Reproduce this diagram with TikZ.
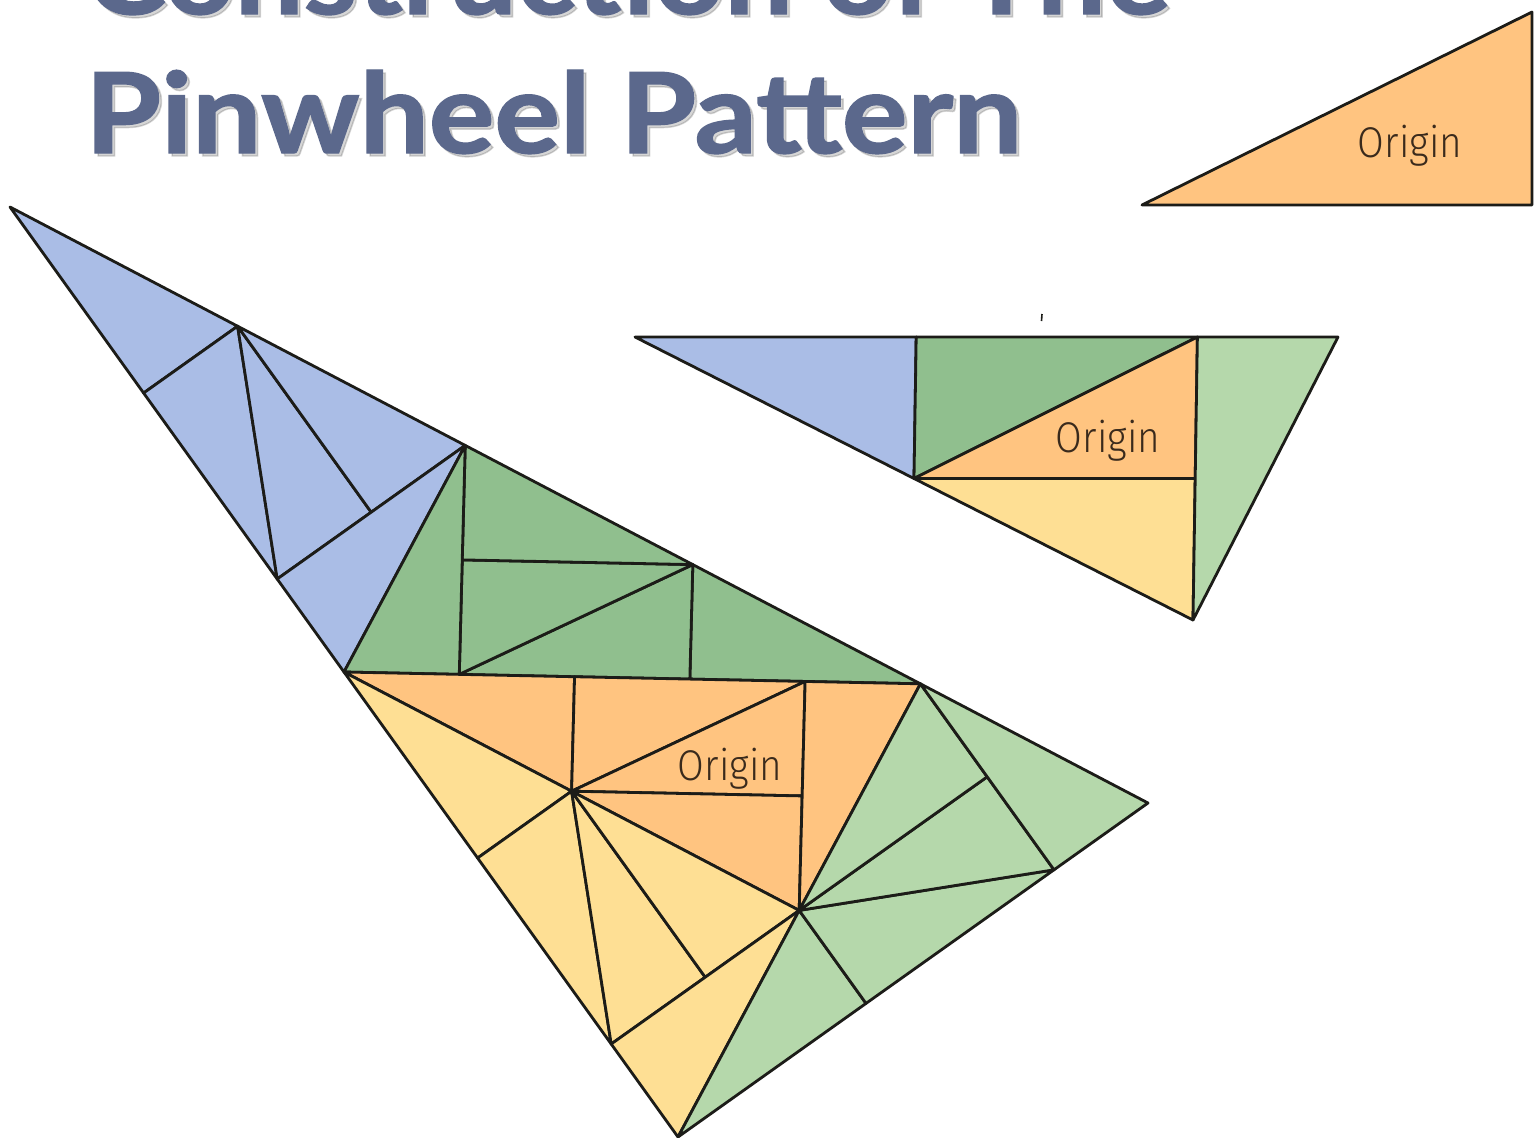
\documentclass[tikz,border=0pt]{standalone}
\usepackage{fontspec}
\usepackage{graphicx}
\usetikzlibrary{calc}
\newfontfamily\titlefont{Lato}[BoldFeatures={FakeBold=1.3}]
\newfontfamily\originfont{Fira Sans Light}
\definecolor{blueT}{RGB}{170,189,230}
\definecolor{dgreenT}{RGB}{144,191,142}
\definecolor{lgreenT}{RGB}{181,216,171}
\definecolor{orangeT}{RGB}{255,196,128}
\definecolor{yellowT}{RGB}{254,223,148}
\definecolor{titlec}{RGB}{91,104,140}
\definecolor{edgec}{RGB}{28,28,24}
\definecolor{originc}{RGB}{58,42,28}
\tikzset{
  edge/.style={draw=edgec, line width=2.8pt, line join=round},
  originlabel/.style={anchor=base, inner sep=0pt, text=originc, font=\fontsize{43}{43}\selectfont\originfont},
  titletext/.style={anchor=base west, inner sep=0pt, text=titlec},
  titleshadow/.style={anchor=base west, inner sep=0pt, text=black, opacity=0.16}
}
% subdivision points of a pinwheel triangle: A small angle, B middle angle, C right angle
\newcommand\pwpts[4]{%
  \coordinate (#1E) at ($(#2)!0.8!(#3)$);
  \coordinate (#1D) at ($(#2)!0.5!(#1E)$);
  \coordinate (#1F) at ($(#2)!0.5!(#4)$);
  \coordinate (#1G) at ($(#1E)!0.5!(#4)$);}
\newcommand\pwtri[4]{\filldraw[edge, fill=#1] (#2) -- (#3) -- (#4) -- cycle;}
% one level of subdivision, all five pieces one colour
\newcommand\pwlevel[5]{%
  \pwpts{#1}{#3}{#4}{#5}
  \pwtri{#2}{#3}{#1D}{#1F}
  \pwtri{#2}{#1D}{#1E}{#1F}
  \pwtri{#2}{#1F}{#1E}{#1G}
  \pwtri{#2}{#1F}{#1G}{#5}
  \pwtri{#2}{#1E}{#4}{#5}}
\begin{document}
\begin{tikzpicture}[x=1pt,y=-1pt]
\useasboundingbox (0,0) rectangle (1540,1138);
\clip (0,0) rectangle (1540,1138);
\fill[white] (0,0) rectangle (1540,1138);

% ---- title ----
\node[titleshadow] (t1s) at (88,17) {\resizebox{1084pt}{84pt}{\titlefont\bfseries Construction of The}};
\node[titleshadow] (t2s) at (88,156) {\resizebox{937pt}{83pt}{\titlefont\bfseries Pinwheel Pattern}};
\node[titletext] (t1) at (85,14) {\resizebox{1084pt}{84pt}{\titlefont\bfseries Construction of The}};
\node[titletext] (t2) at (85,153) {\resizebox{937pt}{83pt}{\titlefont\bfseries Pinwheel Pattern}};

% ---- origin triangle (top right) ----
\coordinate (oA) at (1142,205);
\coordinate (oB) at (1532,12);
\coordinate (oC) at (1532,205);
\pwtri{orangeT}{oA}{oB}{oC}
\node[originlabel] (lab1) at (1410,157) {\scalebox{0.9}[1]{Origin}};

% ---- first substitution (middle) ----
\coordinate (mA) at (635,337);
\coordinate (mB) at (1338,337);
\coordinate (mC) at (1193,620);
\pwpts{m}{mA}{mB}{mC}
\pwtri{blueT}{mA}{mD}{mF}
\pwtri{dgreenT}{mD}{mE}{mF}
\pwtri{orangeT}{mF}{mE}{mG}
\pwtri{yellowT}{mF}{mG}{mC}
\pwtri{lgreenT}{mE}{mB}{mC}
\node[originlabel] (lab2) at (1108,452) {\scalebox{0.9}[1]{Origin}};
\draw[edgec, line width=1.6pt] (1042,314) -- (1041.5,321);

% ---- second substitution (big) ----
\coordinate (bA) at (10,207);
\coordinate (bB) at (1148,803);
\coordinate (bC) at (678,1137);
\pwpts{b}{bA}{bB}{bC}
\pwlevel{p1}{blueT}{bA}{bF}{bD}
\pwlevel{p2}{dgreenT}{bE}{bF}{bD}
\pwlevel{p3}{orangeT}{bF}{bE}{bG}
\pwlevel{p4}{yellowT}{bF}{bC}{bG}
\pwlevel{p5}{lgreenT}{bC}{bB}{bE}
\node[originlabel] (lab3) at (730,780) {\scalebox{0.9}[1]{Origin}};
\end{tikzpicture}
\end{document}
